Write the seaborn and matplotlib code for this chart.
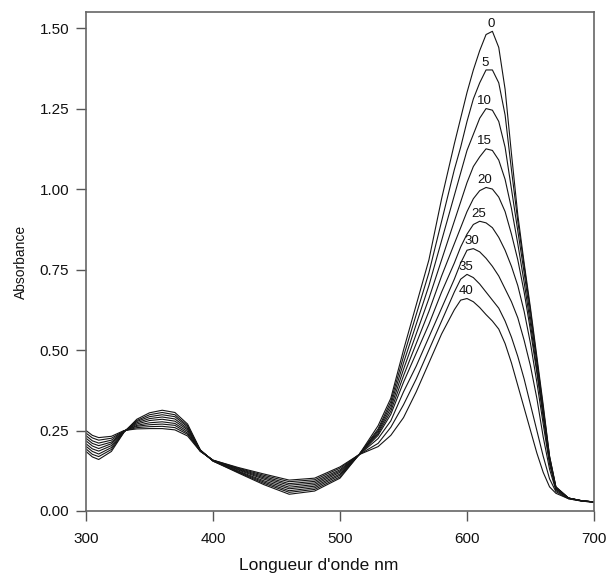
import numpy as np
import pandas as pd
import matplotlib
matplotlib.use("Agg")
import matplotlib.pyplot as plt
import seaborn as sns

wavelength = [300, 305, 310, 320, 330, 340, 350, 360, 370, 380, 390, 400, 420, 440, 460, 480, 500, 515,
              530, 540, 550, 560, 570, 580, 590, 595, 600, 605, 610, 615, 620, 625, 630, 635, 640,
              645, 650, 655, 660, 665, 670, 680, 690, 700]

curve_labels = ["0", "5", "10", "15", "20", "25", "30", "35", "40"]

a0 = [.185, .168, .160, .185, .245, .285, .305, .313, .306, .270, .190, .155, .118, .082, .052, .062, .102, .175,
      .265, .35, .50, .64, .78, .97, 1.14, 1.22, 1.30, 1.37, 1.43, 1.48, 1.49, 1.44, 1.31, 1.11, .92,
      .77, .63, .48, .33, .17, .075, .040, .032, .028]
a5 = [.193, .176, .169, .191, .246, .281, .299, .306, .299, .265, .189, .155, .120, .086, .058, .067, .106, .175,
      .255, .34, .48, .61, .74, .90, 1.06, 1.13, 1.21, 1.28, 1.33, 1.37, 1.37, 1.33, 1.23, 1.06, .90,
      .76, .62, .47, .32, .17, .075, .040, .032, .028]
a10 = [.201, .185, .177, .197, .246, .278, .293, .299, .293, .261, .189, .156, .122, .090, .063, .072, .111, .175,
       .250, .33, .46, .58, .70, .84, .98, 1.05, 1.12, 1.17, 1.22, 1.25, 1.245, 1.21, 1.13, 1.00, .87,
       .74, .60, .46, .31, .165, .073, .040, .032, .028]
a15 = [.209, .193, .186, .203, .247, .274, .287, .292, .286, .256, .188, .156, .124, .094, .069, .077, .115, .175,
       .245, .32, .44, .55, .66, .78, .90, .96, 1.02, 1.07, 1.10, 1.125, 1.12, 1.09, 1.03, .94, .83,
       .71, .58, .44, .30, .16, .072, .040, .032, .028]
a20 = [.218, .202, .194, .209, .248, .270, .281, .285, .279, .252, .188, .157, .127, .099, .074, .082, .120, .175,
       .240, .31, .42, .52, .62, .73, .83, .88, .93, .97, .995, 1.005, 1.00, .975, .93, .86, .78,
       .68, .56, .43, .29, .155, .070, .040, .032, .028]
a25 = [.226, .210, .203, .214, .248, .266, .274, .277, .272, .247, .187, .157, .129, .103, .080, .087, .124, .175,
       .235, .30, .40, .49, .58, .68, .77, .82, .86, .89, .90, .895, .88, .85, .81, .76, .70,
       .62, .52, .40, .27, .145, .068, .040, .032, .028]
a30 = [.234, .218, .211, .220, .249, .263, .268, .270, .266, .242, .186, .157, .131, .107, .085, .092, .128, .175,
       .225, .28, .37, .45, .54, .63, .72, .77, .81, .815, .805, .785, .76, .73, .69, .65, .60,
       .53, .45, .35, .23, .13, .064, .040, .032, .028]
a35 = [.242, .227, .220, .226, .249, .259, .262, .263, .259, .238, .186, .158, .133, .111, .091, .097, .133, .175,
       .210, .26, .33, .41, .50, .59, .68, .72, .735, .725, .705, .68, .655, .63, .59, .54, .48,
       .41, .33, .25, .17, .10, .060, .038, .031, .027]
a40 = [.250, .235, .228, .232, .250, .255, .256, .256, .252, .233, .185, .158, .135, .115, .096, .102, .137, .175,
       .200, .235, .29, .37, .46, .55, .625, .655, .66, .65, .632, .61, .59, .565, .52, .46, .39,
       .32, .25, .18, .12, .075, .055, .038, .031, .027]

series = [a0, a5, a10, a15, a20, a25, a30, a35, a40]

rows = []
for lab, vals in zip(curve_labels, series):
    for w, v in zip(wavelength, vals):
        rows.append({"wl": w, "A": v, "t": lab})
df = pd.DataFrame(rows)

sns.set_theme(style="ticks")
plt.rcParams['font.family'] = ['Liberation Sans', 'DejaVu Sans']

fig = plt.figure(figsize=(6.08, 5.80), dpi=100)
ax = fig.add_axes([86/608, 1 - 511/580, (594-86)/608, (511-12)/580])

sns.lineplot(data=df, x="wl", y="A", hue="t", hue_order=curve_labels,
             palette=["#151515"] * len(curve_labels), linewidth=0.8,
             legend=False, errorbar=None, sort=False, ax=ax)

for lab, vals in zip(curve_labels, series):
    i = int(np.argmax(vals))
    ax.annotate(lab, (wavelength[i], vals[i]), xytext=(-1, 1), textcoords="offset points",
                ha="center", va="bottom", fontsize=9.5, color="#111111")

ax.set_xlim(300, 700)
ax.set_ylim(0, 1.55)
ax.set_xticks([300, 400, 500, 600, 700])
ax.set_yticks([0, 0.25, 0.5, 0.75, 1.0, 1.25, 1.5])
ax.set_yticklabels(["0.00", "0.25", "0.50", "0.75", "1.00", "1.25", "1.50"])
ax.tick_params(axis="both", direction="out", length=7, width=1, colors="#555555",
               labelcolor="#111111", labelsize=11)
ax.tick_params(axis="x", pad=8)
ax.tick_params(axis="y", pad=5)

for s in ax.spines.values():
    s.set_visible(True)
    s.set_color("#666666")
    s.set_linewidth(1.2)

ax.set_xlabel("Longueur d'onde nm", fontsize=12.5, color="#111111")
ax.set_ylabel("Absorbance", fontsize=10, color="#111111")
ax.xaxis.set_label_coords(0.459, -0.094)
ax.yaxis.set_label_coords(-0.115, 0.5)

fig.savefig("out.png", dpi=100, facecolor="white")
